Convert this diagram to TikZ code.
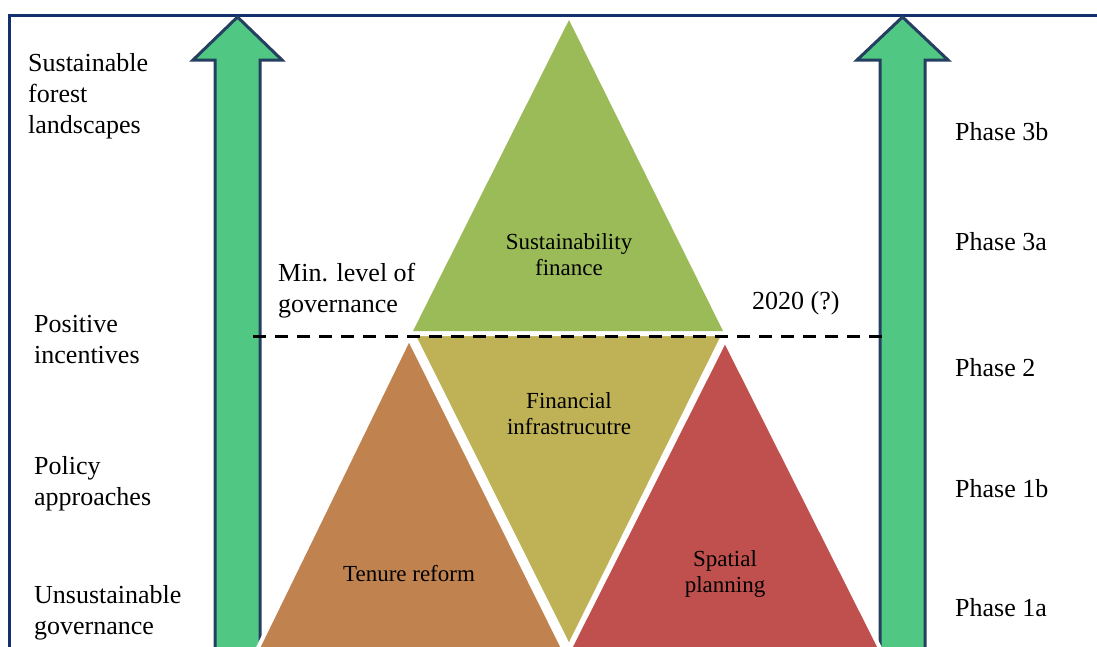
\documentclass[tikz,border=0pt]{standalone}
\usepackage{fontspec}
\setmainfont{Liberation Serif}
\definecolor{topgreen}{HTML}{9BBB59}
\definecolor{olive}{HTML}{BFB256}
\definecolor{brownish}{HTML}{C0834F}
\definecolor{redish}{HTML}{C0504D}
\definecolor{arrowfill}{HTML}{50C883}
\definecolor{arrowline}{HTML}{243F60}
\definecolor{frame}{HTML}{13306E}
\tikzset{
  tri/.style={draw=white,line width=4pt,line join=miter},
  bigarrow/.style={fill=arrowfill,draw=arrowline,line width=3pt,line join=miter},
  outer/.style={font=\fontsize{26}{31}\selectfont,align=left,inner sep=0pt},
  inner/.style={font=\fontsize{23}{26}\selectfont,align=center,inner sep=0pt},
}
\begin{document}
\begin{tikzpicture}[x=1pt,y=-1pt]
\useasboundingbox (0,0) rectangle (1097,646);
% frame
\draw[frame,line width=3pt] (9,660) -- (9,15) -- (1110,15);
% arrows
\draw[bigarrow] (215,660) -- (215,60) -- (193,60) -- (237.5,17) -- (282,60) -- (260,60) -- (260,660);
\draw[bigarrow] (880,660) -- (880,60) -- (857,60) -- (902.5,17) -- (948,60) -- (925,60) -- (925,660);
% triangles
\begin{scope}
\clip (0,0) rectangle (1097,646);
\fill[topgreen] (569,20) -- (723,331) -- (413,331) -- cycle;
\draw[tri,fill=olive] (413,334) -- (724,334) -- (569,647) -- cycle;
\draw[tri,fill=brownish] (409,338) -- (567,656) -- (254,656) -- cycle;
\draw[tri,fill=redish] (725,340) -- (884,656) -- (566,656) -- cycle;
\end{scope}
% dashed line
\coordinate (dl) at (253,336);
\coordinate (dr) at (882,336);
\draw[line width=3pt,dash pattern=on 13pt off 9pt] (dl) -- (dr);
% left labels
\node[outer,anchor=west] (l1) at (28,96) {Sustainable\\forest\\landscapes};
\node[outer,anchor=west] (l2) at (34,340) {Positive\\incentives};
\node[outer,anchor=west] (l3) at (34,484) {Policy\\approaches};
\node[outer,anchor=west] (l4) at (34,613) {Unsustainable\\governance};
% right labels
\node[outer,anchor=west] (r1) at (955,132) {Phase 3b};
\node[outer,anchor=west] (r2) at (955,242) {Phase 3a};
\node[outer,anchor=west] (r3) at (955,368) {Phase 2};
\node[outer,anchor=west] (r4) at (955,489) {Phase 1b};
\node[outer,anchor=west] (r5) at (955,608) {Phase 1a};
% middle labels
\node[outer,anchor=west] (m1) at (278,291) {Min. level of\\governance};
\node[outer,anchor=west] (m2) at (752,303) {2020 (?)};
\node[inner] (t1) at (569,255) {Sustainability\\finance};
\node[inner] (t2) at (569,414) {Financial\\infrastrucutre};
\node[inner] (t3) at (409,574) {Tenure reform};
\node[inner] (t4) at (725,574) {Spatial\\planning};
\end{tikzpicture}
\end{document}
